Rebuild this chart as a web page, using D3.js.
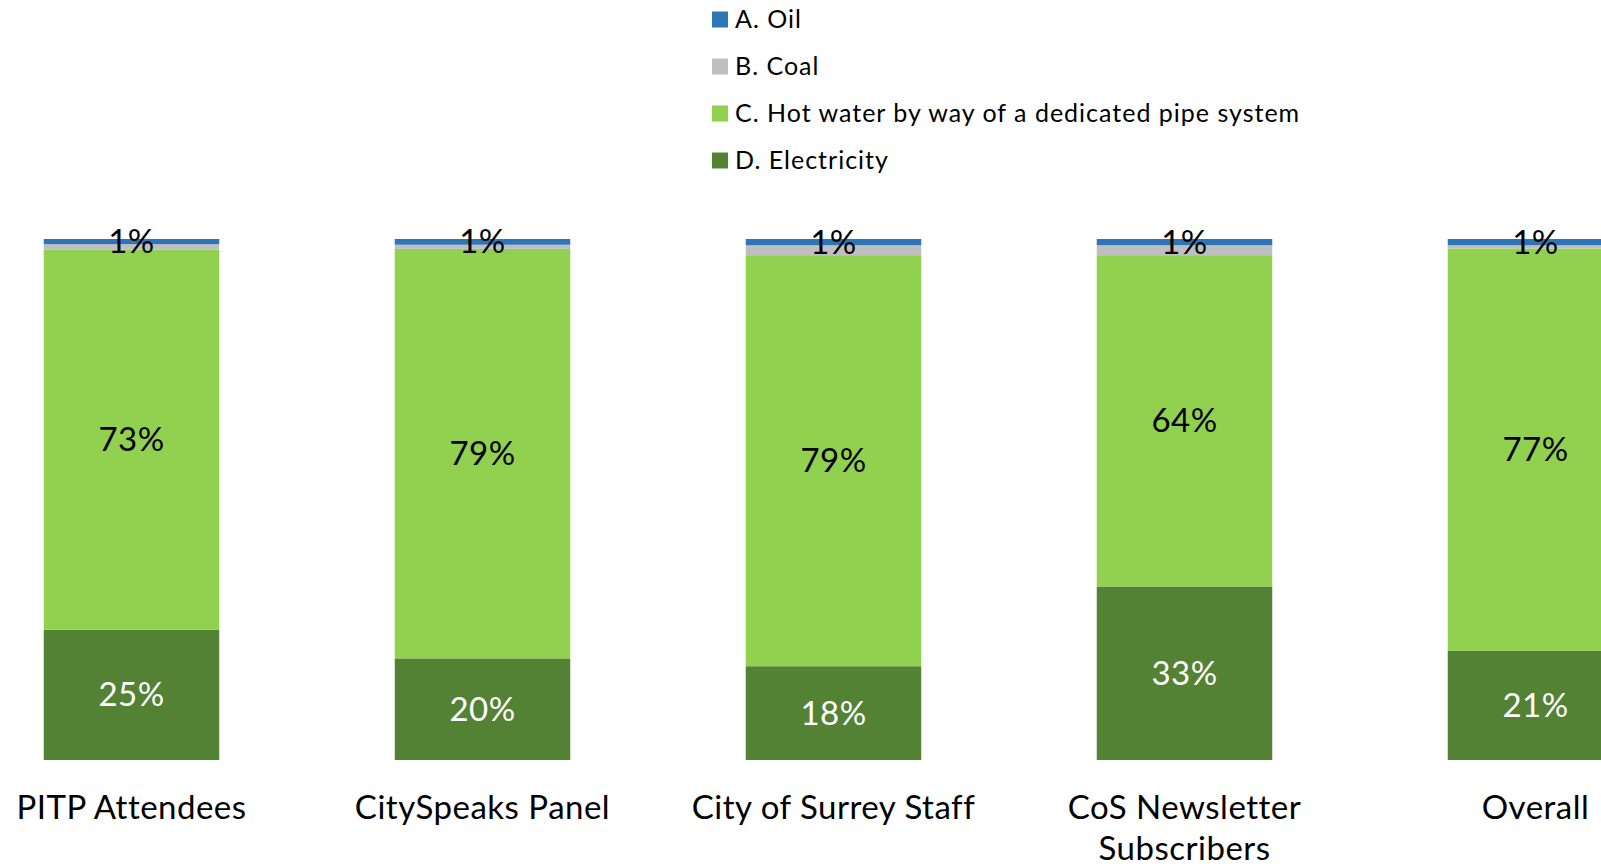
<!DOCTYPE html>
<html>
<head>
<meta charset="utf-8">
<script src="https://cdn.jsdelivr.net/npm/d3@7"></script>
<style>
  body { margin: 0; background: #fff; overflow: hidden; }
  svg { display: block; font-family: Lato, "Open Sans", sans-serif; }
</style>
</head>
<body>
<div id="chart"></div>
<script>
// categories and series (percent of respondents)
const groups = ["PITP Attendees", "CitySpeaks Panel", "City of Surrey Staff", "CoS Newsletter Subscribers", "Overall"];
const seriesNames = ["A. Oil", "B. Coal", "C. Hot water by way of a dedicated pipe system", "D. Electricity"];
const oil = [1.0, 1.1, 1.2, 1.2, 1.2];
const coal = [1.0, 0.8, 1.9, 1.9, 0.6];
const hotWater = [73, 78.6, 78.9, 63.6, 77.2];
const electricity = [25, 19.5, 18, 33.3, 21];
const colors = ["#2E75B6", "#BFBFBF", "#92D050", "#548235"];
const labelColors = ["#000", null, "#000", "#fff"]; // coal values not labelled

const width = 1601, height = 868;

const rows = groups.map((g, i) => ({
  group: g,
  s0: oil[i], s1: coal[i], s2: hotWater[i], s3: electricity[i]
}));

// bottom-up stack: electricity at the bottom, oil at the top
const keys = ["s3", "s2", "s1", "s0"];
const stacked = d3.stack().keys(keys)(rows);

const svg = d3.select("#chart").append("svg")
  .attr("width", width)
  .attr("height", height);

const x = d3.scaleBand()
  .domain(groups)
  .range([-44, 1711])
  .paddingInner(0.5)
  .paddingOuter(0.25);

const y = d3.scaleLinear()
  .domain([0, 100])
  .range([760, 239]);

const layers = svg.selectAll(".layer")
  .data(stacked)
  .enter().append("g")
  .attr("class", "layer")
  .attr("fill", d => colors[+d.key.slice(1)]);

layers.selectAll("rect")
  .data(d => d)
  .enter().append("rect")
  .attr("x", d => x(d.data.group))
  .attr("width", x.bandwidth())
  .attr("y", d => y(d[1]))
  .attr("height", d => y(d[0]) - y(d[1]));

// value labels
stacked.forEach(layer => {
  const idx = +layer.key.slice(1);
  if (!labelColors[idx]) return;
  svg.append("g").selectAll("text")
    .data(layer)
    .enter().append("text")
    .attr("x", d => x(d.data.group) + x.bandwidth() / 2)
    .attr("y", d => (y(d[0]) + y(d[1])) / 2)
    .attr("dy", "0.35em")
    .attr("text-anchor", "middle")
    .attr("font-size", 33)
    .attr("letter-spacing", 0.5)
    .attr("fill", labelColors[idx])
    .text(d => Math.round(d[1] - d[0]) + "%");
});

// category axis
const axis = svg.append("g")
  .attr("transform", "translate(0,760)")
  .call(d3.axisBottom(x).tickSize(0).tickPadding(0));
axis.select(".domain").remove();
axis.selectAll("text")
  .attr("font-size", 33)
  .attr("letter-spacing", 0.5)
  .attr("font-family", "Lato, 'Open Sans', sans-serif")
  .attr("fill", "#000")
  .attr("y", 0)
  .attr("dy", null)
  .each(function (d) {
    const t = d3.select(this);
    const lines = d === "CoS Newsletter Subscribers" ? ["CoS Newsletter", "Subscribers"] : [d];
    t.text(null);
    lines.forEach((l, i) => {
      t.append("tspan").attr("x", 0).attr("y", 59 + i * 41).text(l);
    });
  });

// legend
const legend = svg.append("g").attr("transform", "translate(712,0)");
const legendY = [19.5, 66.5, 113.5, 160.5];
seriesNames.forEach((name, i) => {
  const g = legend.append("g").attr("transform", `translate(0,${legendY[i]})`);
  g.append("rect")
    .attr("x", 0).attr("y", -8)
    .attr("width", 16).attr("height", 16)
    .attr("fill", colors[i]);
  g.append("text")
    .attr("x", 23).attr("y", 0)
    .attr("dy", "0.35em")
    .attr("font-size", 25)
    .attr("letter-spacing", 1)
    .attr("fill", "#000")
    .text(name);
});
</script>
</body>
</html>
